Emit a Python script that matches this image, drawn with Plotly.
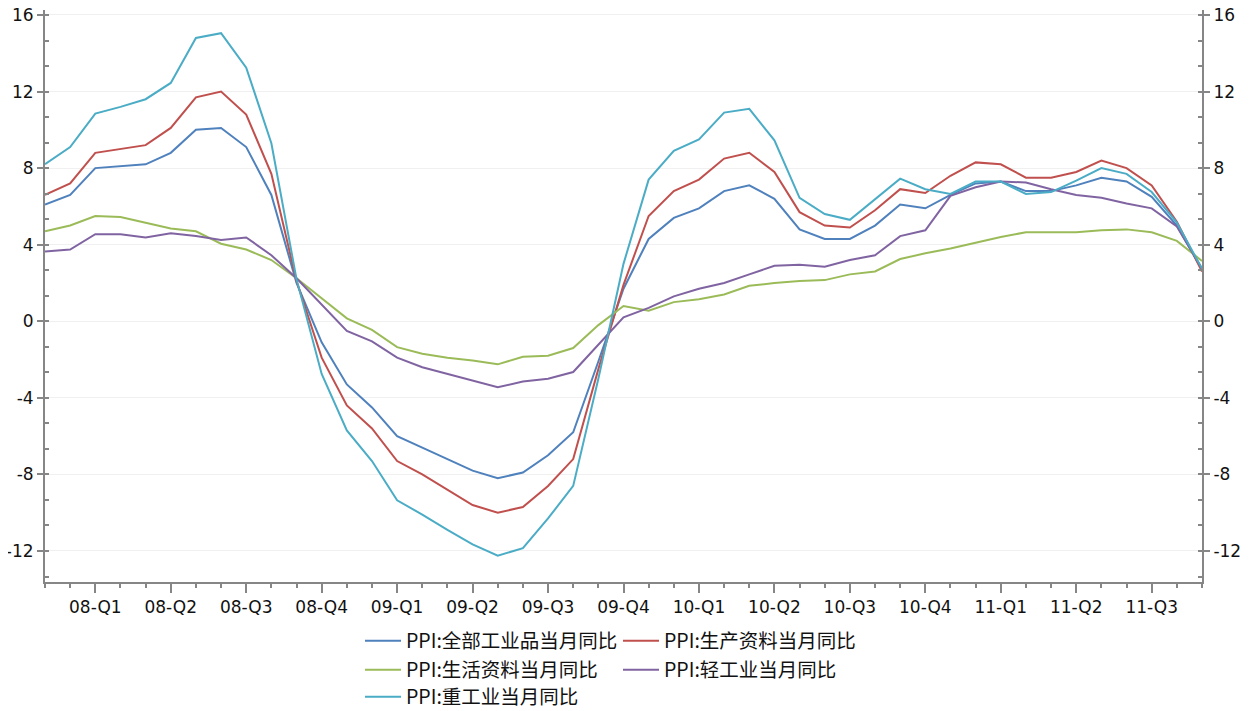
import plotly.graph_objects as go

months = [f"{y}-{m:02d}" for y in range(2008, 2012) for m in range(1, 13)][:47]

quarter_labels = ["08-Q1", "08-Q2", "08-Q3", "08-Q4",
                  "09-Q1", "09-Q2", "09-Q3", "09-Q4",
                  "10-Q1", "10-Q2", "10-Q3", "10-Q4",
                  "11-Q1", "11-Q2", "11-Q3"]
quarter_months = ["2008-03", "2008-06", "2008-09", "2008-12",
                  "2009-03", "2009-06", "2009-09", "2009-12",
                  "2010-03", "2010-06", "2010-09", "2010-12",
                  "2011-03", "2011-06", "2011-09"]

y_tick_values = [-12, -8, -4, 0, 4, 8, 12, 16]
y_tick_labels = ["-12", "-8", "-4", "0", "4", "8", "12", "16"]

ppi_all = [6.1, 6.6, 8.0, 8.1, 8.2, 8.8, 10.0, 10.1, 9.1, 6.6, 2.0, -1.1,
           -3.3, -4.5, -6.0, -6.6, -7.2, -7.8, -8.2, -7.9, -7.0, -5.8, -2.1, 1.7,
           4.3, 5.4, 5.9, 6.8, 7.1, 6.4, 4.8, 4.3, 4.3, 5.0, 6.1, 5.9,
           6.6, 7.2, 7.3, 6.8, 6.8, 7.1, 7.5, 7.3, 6.5, 5.0, 2.7]

ppi_producer = [6.6, 7.2, 8.8, 9.0, 9.2, 10.1, 11.7, 12.0, 10.8, 7.7, 2.1, -1.9,
                -4.4, -5.6, -7.3, -8.0, -8.8, -9.6, -10.0, -9.7, -8.6, -7.2, -2.5, 1.9,
                5.5, 6.8, 7.4, 8.5, 8.8, 7.8, 5.7, 5.0, 4.9, 5.8, 6.9, 6.7,
                7.6, 8.3, 8.2, 7.5, 7.5, 7.8, 8.4, 8.0, 7.1, 5.2, 2.6]

ppi_consumer = [4.7, 5.0, 5.5, 5.45, 5.15, 4.85, 4.7, 4.05, 3.75, 3.2, 2.25, 1.2,
                0.15, -0.45, -1.35, -1.7, -1.9, -2.05, -2.25, -1.85, -1.8, -1.4, -0.2, 0.8,
                0.55, 1.0, 1.15, 1.4, 1.85, 2.0, 2.1, 2.15, 2.45, 2.6, 3.25, 3.55,
                3.8, 4.1, 4.4, 4.65, 4.65, 4.65, 4.75, 4.8, 4.65, 4.2, 3.15]

ppi_light = [3.65, 3.75, 4.55, 4.55, 4.38, 4.6, 4.45, 4.25, 4.38, 3.45, 2.25, 0.85,
             -0.5, -1.05, -1.9, -2.4, -2.75, -3.1, -3.45, -3.15, -3.0, -2.65, -1.25, 0.2,
             0.7, 1.3, 1.7, 2.0, 2.45, 2.9, 2.95, 2.85, 3.2, 3.45, 4.45, 4.75,
             6.55, 7.0, 7.3, 7.25, 6.9, 6.6, 6.45, 6.15, 5.9, 4.95, 2.75]

ppi_heavy = [8.2, 9.1, 10.85, 11.2, 11.6, 12.45, 14.8, 15.05, 13.25, 9.3, 2.2, -2.75,
             -5.7, -7.3, -9.35, -10.1, -10.9, -11.65, -12.25, -11.85, -10.3, -8.6, -3.0, 3.0,
             7.4, 8.9, 9.5, 10.9, 11.1, 9.45, 6.45, 5.6, 5.3, 6.4, 7.45, 6.9,
             6.65, 7.3, 7.3, 6.65, 6.75, 7.35, 8.0, 7.7, 6.75, 5.15, 2.75]

series_names = ["PPI:全部工业品当月同比", "PPI:生产资料当月同比", "PPI:生活资料当月同比",
                "PPI:轻工业当月同比", "PPI:重工业当月同比"]
series_values = [ppi_all, ppi_producer, ppi_consumer, ppi_light, ppi_heavy]
colors = ["#4F81BD", "#C0504D", "#9BBB59", "#8064A2", "#4BACC6"]
legend_ids = ["legend", "legend", "legend2", "legend2", "legend3"]

x_idx = list(range(len(months)))
tickvals = [months.index(m) for m in quarter_months]

fig = go.Figure()
for name, vals, col, lg in zip(series_names, series_values, colors, legend_ids):
    fig.add_trace(go.Scatter(x=x_idx, y=vals, mode="lines", name=name,
                             line=dict(color=col, width=2), legend=lg,
                             hovertext=months))

# invisible companion trace so that the mirrored right-hand axis gets its labels
fig.add_trace(go.Scatter(x=x_idx, y=ppi_all, mode="lines", yaxis="y2",
                         line=dict(color="rgba(0,0,0,0)", width=0),
                         showlegend=False, hoverinfo="skip"))

# page offset: the browser adds an 8px body margin around the figure
PAGE_OFF = 8
PLOT_L, PLOT_R, PLOT_T, PLOT_B = 45, 1202, 10, 582
FIG_W, FIG_H = 1258 - PAGE_OFF, 711 - PAGE_OFF

yr = [-13.62, 16.26]
axis_col = "#868686"
tick_font = dict(family="DejaVu Sans", size=17, color="#111111")
legend_font = dict(family="Noto Sans CJK SC", size=19.5, color="#111111")

common_y = dict(range=yr, tickvals=y_tick_values, ticktext=y_tick_labels,
                showline=True, linecolor=axis_col, linewidth=2, automargin=False,
                ticks="outside", ticklen=6, tickwidth=2, tickcolor=axis_col,
                tickfont=tick_font, zeroline=False, ticklabeloverflow="allow",
                showticklabels=True,
                minor=dict(ticks="inside", ticklen=4, tickwidth=2, tickcolor=axis_col,
                           tickvals=[v / 3 * 4 for v in range(-10, 13)], showgrid=False))

plot_w = PLOT_R - PLOT_L
plot_h = PLOT_B - PLOT_T
lx = (360 - PLOT_L) / plot_w


def legend_cfg(ypx):
    return dict(orientation="h", x=lx, xanchor="left",
                y=(PLOT_B - ypx) / plot_h, yanchor="middle", font=legend_font,
                itemwidth=36, entrywidth=207, entrywidthmode="pixels",
                bgcolor="rgba(0,0,0,0)", tracegroupgap=0)


fig.update_layout(
    width=FIG_W, height=FIG_H,
    margin=dict(l=PLOT_L - PAGE_OFF, r=FIG_W - (PLOT_R - PAGE_OFF),
                t=PLOT_T - PAGE_OFF, b=FIG_H - (PLOT_B - PAGE_OFF), autoexpand=False),
    paper_bgcolor="white", plot_bgcolor="white",
    xaxis=dict(range=[0, len(months) - 1], tickvals=tickvals, ticktext=quarter_labels,
               showline=True, linecolor=axis_col, linewidth=2, automargin=False,
               ticks="outside", ticklen=9, tickwidth=2, tickcolor=axis_col,
               tickfont=tick_font, showgrid=False, zeroline=False,
               minor=dict(ticks="outside", ticklen=4, tickwidth=2, tickcolor=axis_col,
                          dtick=1, tick0=0, showgrid=False)),
    yaxis=dict(side="left", showgrid=True, gridcolor="#f0f0f0", gridwidth=1, **common_y),
    yaxis2=dict(side="right", overlaying="y", anchor="x", showgrid=False, **common_y),
    legend=legend_cfg(641),
    legend2=legend_cfg(670),
    legend3=legend_cfg(697),
    showlegend=True,
)

fig.write_html("out.html")
